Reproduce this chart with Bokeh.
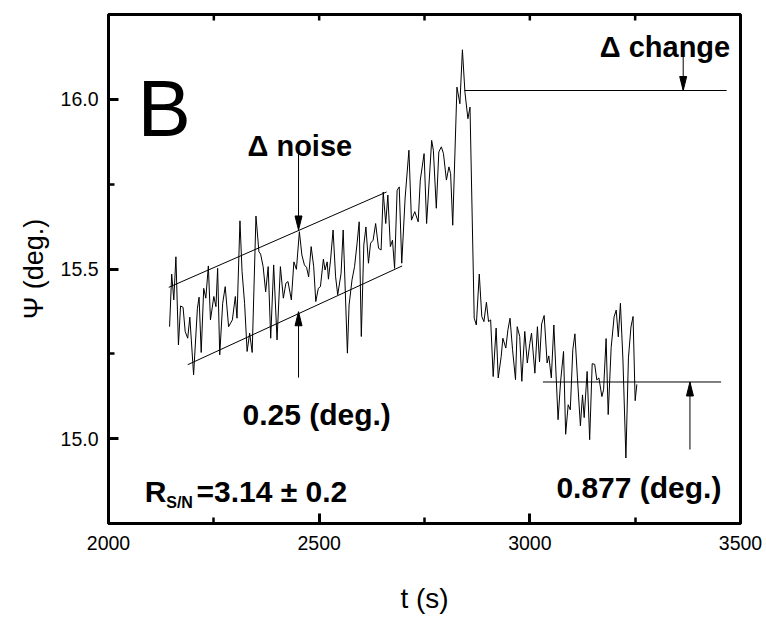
from bokeh.plotting import figure
from bokeh.models import Range1d, FixedTicker, PrintfTickFormatter, Label, ColumnDataSource
from bokeh.embed import file_html
from bokeh.resources import INLINE

# Ellipsometric angle Psi recorded over time
time_s = [2145, 2150, 2155, 2160, 2166, 2171, 2177, 2182, 2188, 2193,
          2202, 2211, 2215, 2220, 2226, 2231, 2237, 2242, 2250, 2255,
          2259, 2264, 2271, 2277, 2285, 2294, 2301, 2305, 2312, 2317,
          2323, 2329, 2335, 2341, 2350, 2357, 2361, 2367, 2373, 2379,
          2385, 2392, 2400, 2408, 2415, 2421, 2426, 2434, 2440, 2446,
          2453, 2459, 2465, 2470, 2475, 2481, 2487, 2492, 2498, 2503,
          2510, 2514, 2519, 2522, 2527, 2533, 2539, 2544, 2552, 2557,
          2567, 2571, 2578, 2584, 2590, 2595, 2600, 2606, 2611, 2617,
          2622, 2628, 2634, 2641, 2647, 2652, 2658, 2663, 2669, 2674,
          2679, 2685, 2690, 2696, 2704, 2713, 2719, 2727, 2735, 2740,
          2749, 2755, 2767, 2771, 2778, 2784, 2790, 2795, 2802, 2808,
          2812, 2817, 2827, 2834, 2840, 2846, 2853, 2858, 2868, 2873,
          2880, 2886, 2891, 2897, 2902, 2907, 2913, 2920, 2925, 2932,
          2936, 2943, 2948, 2953, 2959, 2966, 2970, 2976, 2981, 2988,
          2994, 3000, 3004, 3012, 3018, 3023, 3028, 3034, 3041, 3045,
          3051, 3057, 3067, 3073, 3080, 3085, 3091, 3096, 3102, 3107,
          3113, 3120, 3125, 3129, 3136, 3142, 3148, 3154, 3159, 3164,
          3171, 3175, 3181, 3186, 3193, 3200, 3205, 3210, 3215, 3221,
          3228, 3234, 3240, 3245, 3250, 3254]

psi_deg = [15.330, 15.485, 15.409, 15.536, 15.276, 15.391, 15.387, 15.316, 15.296, 15.358,
           15.188, 15.384, 15.417, 15.254, 15.443, 15.414, 15.509, 15.350, 15.419, 15.389,
           15.502, 15.247, 15.399, 15.448, 15.330, 15.350, 15.419, 15.355, 15.642, 15.492,
           15.399, 15.257, 15.311, 15.254, 15.656, 15.551, 15.544, 15.507, 15.433, 15.507,
           15.296, 15.512, 15.291, 15.507, 15.414, 15.458, 15.463, 15.409, 15.521, 15.499,
           15.610, 15.541, 15.512, 15.505, 15.477, 15.566, 15.507, 15.404, 15.443, 15.448,
           15.529, 15.497, 15.521, 15.470, 15.526, 15.615, 15.477, 15.424, 15.487, 15.615,
           15.252, 15.394, 15.468, 15.507, 15.576, 15.639, 15.301, 15.571, 15.624, 15.517,
           15.576, 15.585, 15.634, 15.561, 15.556, 15.727, 15.634, 15.718, 15.566, 15.585,
           15.502, 15.732, 15.742, 15.517, 15.709, 15.850, 15.644, 15.669, 15.639, 15.762,
           15.840, 15.634, 15.879, 15.850, 15.679, 15.845, 15.860, 15.840, 15.762, 15.801,
           15.781, 15.629, 16.036, 15.987, 16.146, 16.021, 15.943, 15.977, 15.355, 15.335,
           15.485, 15.360, 15.345, 15.402, 15.345, 15.350, 15.183, 15.326, 15.179, 15.242,
           15.296, 15.267, 15.321, 15.355, 15.262, 15.174, 15.330, 15.301, 15.169, 15.316,
           15.223, 15.281, 15.311, 15.193, 15.330, 15.226, 15.338, 15.363, 15.223, 15.244,
           15.179, 15.335, 15.056, 15.168, 15.257, 15.013, 15.100, 15.085, 15.262, 15.309,
           15.179, 15.038, 15.129, 15.062, 15.198, 14.997, 15.221, 15.219, 15.173, 15.179,
           15.124, 15.144, 15.295, 15.071, 15.268, 15.359, 15.379, 15.300, 15.399, 15.232,
           14.943, 15.238, 15.329, 15.360, 15.112, 15.160]

assert len(time_s) == len(psi_deg)

# Axis ticks
x_major = [2000, 2500, 3000, 3500]
x_minor = [2250, 2750, 3250]
y_major = [15.0, 15.5, 16.0]
y_minor = [14.75, 15.25, 15.75, 16.25]

# Noise band edges (start/end)
band_upper_t = [2143, 2660]
band_upper_psi = [15.446, 15.727]
band_lower_t = [2188, 2697]
band_lower_psi = [15.218, 15.509]

# Reference levels before/after the change
change_t = [2845, 3467]
change_psi = 16.026
base_t = [3031, 3454]
base_psi = 15.167

# Arrows: (time, tail, tip)
arrows = [
    (2451, 15.838, 15.615),
    (2451, 15.180, 15.374),
    (3364, 16.154, 16.026),
    (3380, 14.968, 15.167),
]

FONT = "Liberation Sans"
W, H = 766, 619
BL, BR, BT, BB = 108, 26, 14, 96
X0, X1, Y0, Y1 = 2000, 3500, 14.75, 16.25

p = figure(width=W, height=H, x_range=Range1d(X0, X1), y_range=Range1d(Y0, Y1),
           output_backend="svg", toolbar_location=None,
           min_border_left=BL, min_border_right=BR, min_border_top=BT, min_border_bottom=BB,
           x_axis_label="t (s)", y_axis_label="Ψ (deg.)")
p.grid.visible = False
p.outline_line_color = "black"
p.outline_line_width = 3

for ax, maj, mnr in ((p.xaxis[0], x_major, x_minor), (p.yaxis[0], y_major, y_minor)):
    ax.ticker = FixedTicker(ticks=maj, minor_ticks=mnr)
    ax.axis_line_color = "black"
    ax.axis_line_width = 3
    ax.major_tick_in = 10
    ax.major_tick_out = 0
    ax.minor_tick_in = 6
    ax.minor_tick_out = 0
    ax.major_tick_line_color = "black"
    ax.minor_tick_line_color = "black"
    ax.major_tick_line_width = 3
    ax.minor_tick_line_width = 2.5
    ax.major_label_text_font = FONT
    ax.major_label_text_font_size = "19.5px"
    ax.major_label_text_color = "black"
    ax.axis_label_text_font = FONT
    ax.axis_label_text_font_style = "normal"
    ax.axis_label_text_color = "black"

p.xaxis[0].major_label_standoff = 12
p.xaxis[0].axis_label_standoff = 30
p.xaxis[0].axis_label_text_font_size = "28px"
p.yaxis[0].formatter = PrintfTickFormatter(format="%.1f")
p.yaxis[0].major_label_standoff = 10
p.yaxis[0].axis_label_standoff = 9
p.yaxis[0].axis_label_text_font_size = "27px"

# Pixel-to-data scale of the frame
fw, fh = W - BL - BR, H - BT - BB
px_t = fw / (X1 - X0)
px_v = fh / (Y1 - Y0)

# Short inward ticks along the top edge
top_ticks = x_major + x_minor
top_len = 6 / px_v
p.segment(x0=top_ticks, y0=[Y1] * len(top_ticks), x1=top_ticks,
          y1=[Y1 - top_len] * len(top_ticks), line_color="black", line_width=2.5)

# Signal trace
src = ColumnDataSource(dict(t=time_s, psi=psi_deg))
p.line("t", "psi", source=src, line_color="black", line_width=1)

# Guide lines
p.line(band_upper_t, band_upper_psi, line_color="black", line_width=1)
p.line(band_lower_t, band_lower_psi, line_color="black", line_width=1)
p.line(change_t, [change_psi, change_psi], line_color="black", line_width=1)
p.line(base_t, [base_psi, base_psi], line_color="black", line_width=1)

# Arrow shafts and heads (head size given in screen pixels)
head_len, head_half = 14 / px_v, 3.5 / px_t
xs, ys = [], []
for t, tail, tip in arrows:
    p.segment(x0=[t], y0=[tail], x1=[t], y1=[tip], line_color="black", line_width=1)
    sgn = 1 if tip > tail else -1
    base = tip - sgn * head_len
    xs.append([t - head_half, t + head_half, t])
    ys.append([base, base, tip])
p.patches(xs, ys, fill_color="black", line_color="black", line_width=1)

def add_text(x, y, text, size, style="bold"):
    p.add_layout(Label(x=x, y=y, text=text, text_font=FONT, text_font_size=size,
                       text_font_style=style, text_color="black",
                       text_align="left", text_baseline="alphabetic"))

add_text(2069, 15.974, "B", "80px", "normal")
add_text(2330, 15.862, "Δ noise", "29px")
add_text(3166, 16.153, "Δ change", "29px")
add_text(2318, 15.071, "0.25 (deg.)", "30px")
add_text(3063, 14.856, "0.877 (deg.)", "30px")
add_text(2086, 14.844, "R", "30px")
add_text(2137, 14.812, "S/N", "16px")
add_text(2209, 14.844, "=3.14 ± 0.2", "30px")

open("out.html", "w").write(file_html(p, INLINE))
